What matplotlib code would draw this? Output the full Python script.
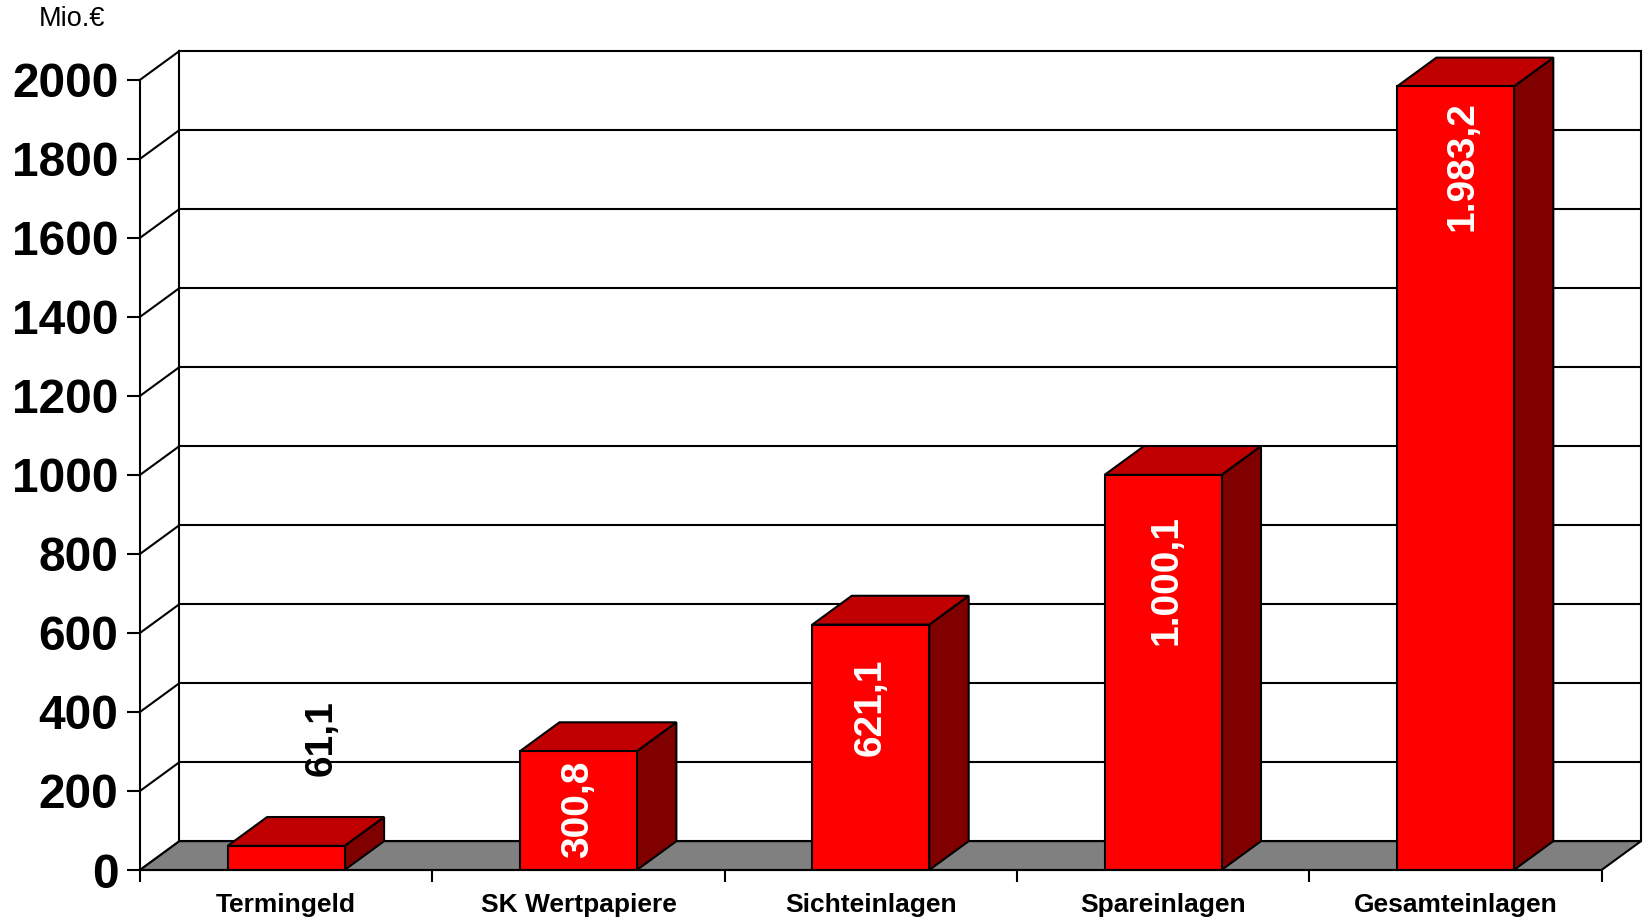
import matplotlib.pyplot as plt
from matplotlib.patches import Polygon

plt.rcParams['font.family'] = ['Liberation Sans', 'DejaVu Sans']

# Daten
categories = ["Termingeld", "SK Wertpapiere", "Sichteinlagen", "Spareinlagen", "Gesamteinlagen"]
values = [61.1, 300.8, 621.1, 1000.1, 1983.2]
value_labels = ["61,1", "300,8", "621,1", "1.000,1", "1.983,2"]
y_ticks = [0, 200, 400, 600, 800, 1000, 1200, 1400, 1600, 1800, 2000]

# 3D-Optik: Tiefe in Achseneinheiten
DX = 0.135
DY = 73
W = 0.4
LW = 1.5

# Label-Versatz in Pixel relativ zur Balkenoberkante (wie im Excel-Original)
label_offsets = [(35, 108), (0, -58), (0, -83), (3, -105), (7, -80)]
label_colors = ["black", "white", "white", "white", "white"]

fig = plt.figure(figsize=(16.46, 9.18), dpi=100)
ax = fig.add_axes([140 / 1646, 48 / 918, 1501 / 1646, 819 / 918])
ax.set_xlim(-0.5, len(categories) - 0.5 + DX)
ax.set_ylim(0, y_ticks[-1] + DY)

x_left = -0.5
x_right = len(categories) - 0.5

# ── Rückwand + Seitenwand ────────────────
for t in y_ticks:
    ax.plot([x_left + DX, x_right + DX], [t + DY, t + DY], color="black", lw=LW, zorder=1, clip_on=False)
    ax.plot([x_left, x_left + DX], [t, t + DY], color="black", lw=LW, zorder=1, clip_on=False)
ax.plot([x_left + DX] * 2, [DY, y_ticks[-1] + DY], color="black", lw=LW, zorder=1, clip_on=False)
ax.plot([x_right + DX] * 2, [DY, y_ticks[-1] + DY], color="black", lw=LW, zorder=1, clip_on=False)

# Boden
floor = Polygon([(x_left, 0), (x_right, 0), (x_right + DX, DY), (x_left + DX, DY)],
                closed=True, facecolor="#808080", edgecolor="black", lw=LW, zorder=2, clip_on=False)
ax.add_patch(floor)

# ── Balken ────────────────
for i, v in enumerate(values):
    x0, x1 = i - W / 2, i + W / 2
    front = Polygon([(x0, 0), (x1, 0), (x1, v), (x0, v)], closed=True,
                    facecolor="#FF0000", edgecolor="black", lw=LW, zorder=4)
    top = Polygon([(x0, v), (x1, v), (x1 + DX, v + DY), (x0 + DX, v + DY)], closed=True,
                  facecolor="#C00000", edgecolor="black", lw=LW, zorder=3)
    side = Polygon([(x1, 0), (x1 + DX, DY), (x1 + DX, v + DY), (x1, v)], closed=True,
                   facecolor="#800000", edgecolor="black", lw=LW, zorder=3)
    ax.add_patch(side)
    ax.add_patch(top)
    ax.add_patch(front)
    ax.annotate(value_labels[i], (i, v), xytext=label_offsets[i], textcoords="offset pixels",
                rotation=90, ha="center", va="center", fontsize=28, fontweight="bold",
                color=label_colors[i], zorder=6)

# ── Achsen ────────────────
for side_name in ["top", "right"]:
    ax.spines[side_name].set_visible(False)
ax.spines["left"].set_bounds(0, y_ticks[-1])
ax.spines["bottom"].set_bounds(x_left, x_right)
ax.spines["left"].set_linewidth(LW)
ax.spines["bottom"].set_linewidth(LW)
ax.spines["left"].set_zorder(5)
ax.spines["bottom"].set_zorder(5)

ax.set_yticks(y_ticks)
ax.set_yticklabels([str(t) for t in y_ticks], fontsize=34.5, fontweight="bold")
ax.tick_params(axis="y", length=9.4, width=LW, pad=6, direction="out")

ax.set_xticks([x_left + k for k in range(len(categories) + 1)])
ax.set_xticklabels([])
ax.tick_params(axis="x", which="major", length=8.6, width=LW, direction="out")
ax.set_xticks(range(len(categories)), minor=True)
ax.set_xticklabels(categories, minor=True, fontsize=19, fontweight="bold")
ax.tick_params(axis="x", which="minor", length=0, pad=16.5)

ax.set_facecolor("none")
fig.text(39 / 1646, 1 - 19 / 918, "Mio.€", fontsize=19.5, ha="left", va="center")

fig.savefig("out.png", dpi=100)
